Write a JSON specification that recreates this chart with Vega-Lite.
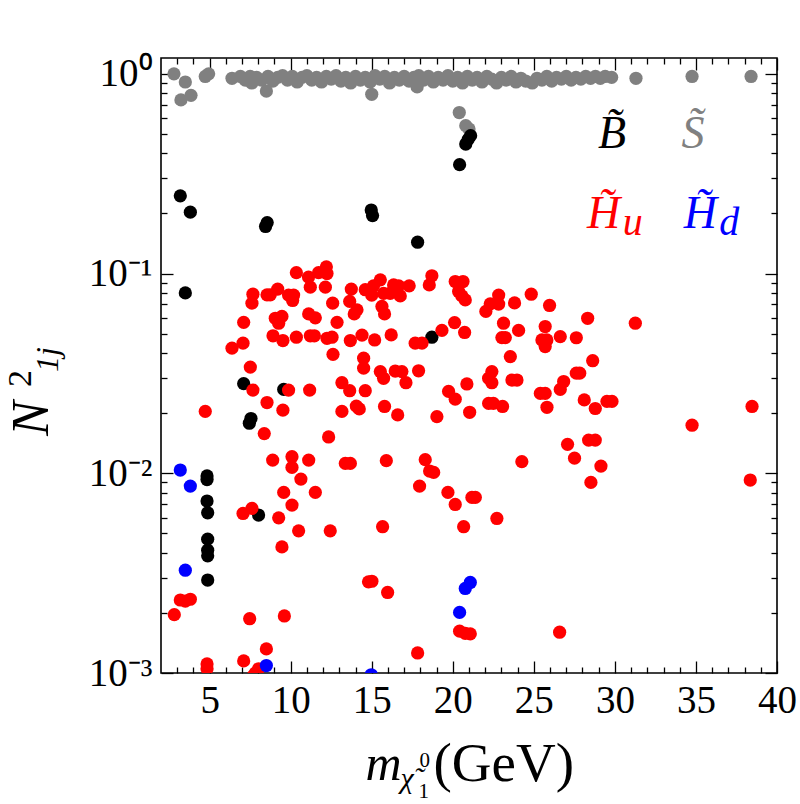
{
"$schema": "https://vega.github.io/schema/vega-lite/v6.json",
"width": 616, "height": 615,
"autosize": {"type": "none"},
"padding": {"left": 161, "top": 58, "right": 23, "bottom": 131},
"background": "white",
"config": {
  "view": {"stroke": "black", "strokeWidth": 1.6},
  "axis": {"grid": false, "domain": false, "tickColor": "black", "tickWidth": 1.3, "labelColor": "black", "titleColor": "black",
           "labelFont": "Liberation Serif", "labelFontSize": 39, "titleFont": "Liberation Serif", "titleFontWeight": "normal"},
  "text": {"font": "Liberation Serif"}
},
"resolve": {"axis": {"x": "independent", "y": "independent"}},
"datasets": {
"pts": [
{"x":2.8,"y":1.0,"c":"S"},{"x":3.5,"y":0.91,"c":"S"},{"x":3.23,"y":0.74,"c":"S"},{"x":3.85,"y":0.78,"c":"S"},{"x":4.73,"y":0.97,"c":"S"},{"x":4.94,"y":1.0,"c":"S"},{"x":6.38,"y":0.95,"c":"S"},{"x":8.5,"y":0.82,"c":"S"},{"x":15.0,"y":0.79,"c":"S"},{"x":17.8,"y":0.86,"c":"S"},{"x":20.4,"y":0.64,"c":"S"},{"x":20.8,"y":0.55,"c":"S"},{"x":21.0,"y":0.53,"c":"S"},{"x":31.3,"y":0.95,"c":"S"},{"x":34.76,"y":0.97,"c":"S"},{"x":38.4,"y":0.97,"c":"S"},
{"x":6.9,"y":0.97,"c":"S"},{"x":7.2,"y":0.93,"c":"S"},{"x":7.5,"y":0.97,"c":"S"},{"x":7.6,"y":0.9,"c":"S"},{"x":7.9,"y":0.96,"c":"S"},{"x":8.2,"y":0.93,"c":"S"},{"x":8.6,"y":0.97,"c":"S"},{"x":8.9,"y":0.92,"c":"S"},{"x":9.2,"y":0.96,"c":"S"},{"x":9.5,"y":0.98,"c":"S"},{"x":9.8,"y":0.93,"c":"S"},{"x":10.1,"y":0.97,"c":"S"},{"x":10.4,"y":0.91,"c":"S"},{"x":10.7,"y":0.96,"c":"S"},{"x":11.0,"y":0.98,"c":"S"},{"x":11.3,"y":0.93,"c":"S"},{"x":11.6,"y":0.96,"c":"S"},{"x":11.9,"y":0.91,"c":"S"},{"x":12.2,"y":0.97,"c":"S"},{"x":12.5,"y":0.94,"c":"S"},{"x":12.8,"y":0.98,"c":"S"},{"x":13.1,"y":0.92,"c":"S"},{"x":13.4,"y":0.96,"c":"S"},{"x":13.7,"y":0.9,"c":"S"},{"x":14.0,"y":0.97,"c":"S"},{"x":14.3,"y":0.93,"c":"S"},{"x":14.6,"y":0.96,"c":"S"},{"x":14.9,"y":0.91,"c":"S"},{"x":15.2,"y":0.98,"c":"S"},{"x":15.5,"y":0.94,"c":"S"},{"x":15.8,"y":0.97,"c":"S"},{"x":16.1,"y":0.9,"c":"S"},{"x":16.4,"y":0.96,"c":"S"},{"x":16.7,"y":0.93,"c":"S"},{"x":17.0,"y":0.97,"c":"S"},{"x":17.3,"y":0.92,"c":"S"},{"x":17.6,"y":0.96,"c":"S"},{"x":17.9,"y":0.98,"c":"S"},{"x":18.2,"y":0.93,"c":"S"},{"x":18.5,"y":0.97,"c":"S"},{"x":18.8,"y":0.91,"c":"S"},{"x":19.1,"y":0.96,"c":"S"},{"x":19.4,"y":0.93,"c":"S"},{"x":19.7,"y":0.98,"c":"S"},{"x":20.0,"y":0.92,"c":"S"},{"x":20.3,"y":0.96,"c":"S"},{"x":20.6,"y":0.9,"c":"S"},{"x":20.9,"y":0.97,"c":"S"},{"x":21.2,"y":0.93,"c":"S"},{"x":21.5,"y":0.96,"c":"S"},{"x":21.8,"y":0.91,"c":"S"},{"x":22.1,"y":0.97,"c":"S"},{"x":22.4,"y":0.94,"c":"S"},{"x":22.7,"y":0.9,"c":"S"},{"x":23.0,"y":0.96,"c":"S"},{"x":23.3,"y":0.93,"c":"S"},{"x":23.6,"y":0.97,"c":"S"},{"x":23.9,"y":0.91,"c":"S"},{"x":24.2,"y":0.95,"c":"S"},{"x":24.5,"y":0.92,"c":"S"},{"x":24.9,"y":0.9,"c":"S"},{"x":25.2,"y":0.95,"c":"S"},{"x":25.5,"y":0.93,"c":"S"},{"x":25.8,"y":0.97,"c":"S"},{"x":26.1,"y":0.92,"c":"S"},{"x":26.4,"y":0.96,"c":"S"},{"x":26.7,"y":0.94,"c":"S"},{"x":27.0,"y":0.97,"c":"S"},{"x":27.3,"y":0.93,"c":"S"},{"x":27.6,"y":0.96,"c":"S"},{"x":27.9,"y":0.94,"c":"S"},{"x":28.2,"y":0.97,"c":"S"},{"x":28.5,"y":0.95,"c":"S"},{"x":28.8,"y":0.97,"c":"S"},{"x":29.1,"y":0.95,"c":"S"},{"x":29.4,"y":0.97,"c":"S"},{"x":29.8,"y":0.96,"c":"S"},
{"x":3.19,"y":0.245,"c":"B"},{"x":3.81,"y":0.203,"c":"B"},{"x":3.5,"y":0.08,"c":"B"},{"x":8.45,"y":0.172,"c":"B"},{"x":8.55,"y":0.18,"c":"B"},{"x":14.97,"y":0.208,"c":"B"},{"x":15.05,"y":0.195,"c":"B"},{"x":17.83,"y":0.1435,"c":"B"},{"x":18.71,"y":0.048,"c":"B"},{"x":20.42,"y":0.351,"c":"B"},{"x":20.8,"y":0.445,"c":"B"},{"x":20.95,"y":0.47,"c":"B"},{"x":21.1,"y":0.49,"c":"B"},{"x":7.1,"y":0.0281,"c":"B"},{"x":9.57,"y":0.0263,"c":"B"},{"x":7.45,"y":0.0178,"c":"B"},{"x":7.55,"y":0.0188,"c":"B"},{"x":4.84,"y":0.0097,"c":"B"},{"x":4.84,"y":0.0093,"c":"B"},{"x":4.84,"y":0.00726,"c":"B"},{"x":4.88,"y":0.00634,"c":"B"},{"x":8.02,"y":0.00618,"c":"B"},{"x":4.88,"y":0.00468,"c":"B"},{"x":4.88,"y":0.00412,"c":"B"},{"x":4.88,"y":0.00386,"c":"B"},{"x":4.88,"y":0.00292,"c":"B"},
{"x":10.35,"y":0.101,"c":"Hu"},{"x":11.1,"y":0.096,"c":"Hu"},{"x":11.72,"y":0.101,"c":"Hu"},{"x":12.2,"y":0.108,"c":"Hu"},{"x":12.24,"y":0.1,"c":"Hu"},{"x":11.21,"y":0.0855,"c":"Hu"},{"x":12.14,"y":0.0855,"c":"Hu"},{"x":9.2,"y":0.0836,"c":"Hu"},{"x":8.54,"y":0.0782,"c":"Hu"},{"x":8.74,"y":0.0782,"c":"Hu"},{"x":7.67,"y":0.0788,"c":"Hu"},{"x":7.61,"y":0.0711,"c":"Hu"},{"x":9.87,"y":0.078,"c":"Hu"},{"x":10.18,"y":0.078,"c":"Hu"},{"x":10.12,"y":0.0733,"c":"Hu"},{"x":13.74,"y":0.0836,"c":"Hu"},{"x":14.6,"y":0.083,"c":"Hu"},{"x":12.59,"y":0.0711,"c":"Hu"},{"x":13.64,"y":0.0725,"c":"Hu"},{"x":14.09,"y":0.0658,"c":"Hu"},{"x":13.92,"y":0.0628,"c":"Hu"},{"x":7.1,"y":0.057,"c":"Hu"},{"x":9.05,"y":0.0597,"c":"Hu"},{"x":9.46,"y":0.061,"c":"Hu"},{"x":9.26,"y":0.0564,"c":"Hu"},{"x":11.11,"y":0.0628,"c":"Hu"},{"x":11.52,"y":0.06,"c":"Hu"},{"x":12.86,"y":0.057,"c":"Hu"},{"x":8.91,"y":0.0488,"c":"Hu"},{"x":9.52,"y":0.0462,"c":"Hu"},{"x":10.35,"y":0.048,"c":"Hu"},{"x":11.21,"y":0.0488,"c":"Hu"},{"x":11.46,"y":0.0488,"c":"Hu"},{"x":12.24,"y":0.0474,"c":"Hu"},{"x":12.55,"y":0.048,"c":"Hu"},{"x":13.68,"y":0.0462,"c":"Hu"},{"x":14.4,"y":0.0492,"c":"Hu"},{"x":7.06,"y":0.0448,"c":"Hu"},{"x":6.38,"y":0.0423,"c":"Hu"},{"x":12.61,"y":0.0394,"c":"Hu"},{"x":14.5,"y":0.0377,"c":"Hu"},{"x":14.5,"y":0.0336,"c":"Hu"},{"x":7.51,"y":0.034,"c":"Hu"},{"x":13.16,"y":0.0284,"c":"Hu"},{"x":13.64,"y":0.0259,"c":"Hu"},{"x":7.67,"y":0.0261,"c":"Hu"},{"x":9.87,"y":0.0261,"c":"Hu"},{"x":11.17,"y":0.0261,"c":"Hu"},{"x":14.6,"y":0.0259,"c":"Hu"},{"x":8.54,"y":0.0226,"c":"Hu"},{"x":9.52,"y":0.0207,"c":"Hu"},{"x":4.73,"y":0.0204,"c":"Hu"},{"x":13.16,"y":0.0204,"c":"Hu"},{"x":14.05,"y":0.0217,"c":"Hu"},{"x":14.23,"y":0.021,"c":"Hu"},
{"x":15.11,"y":0.0868,"c":"Hu"},{"x":15.53,"y":0.093,"c":"Hu"},{"x":15.0,"y":0.078,"c":"Hu"},{"x":15.73,"y":0.0796,"c":"Hu"},{"x":16.35,"y":0.0877,"c":"Hu"},{"x":16.66,"y":0.0868,"c":"Hu"},{"x":16.14,"y":0.0796,"c":"Hu"},{"x":16.76,"y":0.0773,"c":"Hu"},{"x":17.31,"y":0.0868,"c":"Hu"},{"x":15.63,"y":0.0684,"c":"Hu"},{"x":15.79,"y":0.0628,"c":"Hu"},{"x":18.55,"y":0.0877,"c":"Hu"},{"x":18.71,"y":0.0975,"c":"Hu"},{"x":20.15,"y":0.0912,"c":"Hu"},{"x":20.63,"y":0.0912,"c":"Hu"},{"x":20.36,"y":0.0813,"c":"Hu"},{"x":20.56,"y":0.0773,"c":"Hu"},{"x":20.77,"y":0.0738,"c":"Hu"},{"x":22.83,"y":0.078,"c":"Hu"},{"x":22.31,"y":0.0705,"c":"Hu"},{"x":22.04,"y":0.0646,"c":"Hu"},{"x":22.83,"y":0.0703,"c":"Hu"},{"x":23.81,"y":0.0713,"c":"Hu"},{"x":24.84,"y":0.0788,"c":"Hu"},{"x":25.97,"y":0.0692,"c":"Hu"},{"x":20.11,"y":0.0568,"c":"Hu"},{"x":19.33,"y":0.0519,"c":"Hu"},{"x":20.73,"y":0.0507,"c":"Hu"},{"x":23.13,"y":0.0564,"c":"Hu"},{"x":23.03,"y":0.0478,"c":"Hu"},{"x":23.24,"y":0.0478,"c":"Hu"},{"x":24.06,"y":0.0519,"c":"Hu"},{"x":25.7,"y":0.0543,"c":"Hu"},{"x":25.5,"y":0.0465,"c":"Hu"},{"x":25.8,"y":0.0465,"c":"Hu"},{"x":26.63,"y":0.0483,"c":"Hu"},{"x":25.7,"y":0.0431,"c":"Hu"},{"x":15.18,"y":0.0465,"c":"Hu"},{"x":16.2,"y":0.0493,"c":"Hu"},{"x":17.68,"y":0.0448,"c":"Hu"},{"x":18.1,"y":0.0448,"c":"Hu"},{"x":23.55,"y":0.0384,"c":"Hu"},{"x":15.53,"y":0.0323,"c":"Hu"},{"x":15.73,"y":0.0299,"c":"Hu"},{"x":16.45,"y":0.0325,"c":"Hu"},{"x":16.86,"y":0.0323,"c":"Hu"},{"x":17.89,"y":0.0326,"c":"Hu"},{"x":17.11,"y":0.0284,"c":"Hu"},{"x":22.41,"y":0.0323,"c":"Hu"},{"x":22.21,"y":0.0299,"c":"Hu"},{"x":22.41,"y":0.0284,"c":"Hu"},{"x":23.65,"y":0.0293,"c":"Hu"},{"x":23.96,"y":0.0293,"c":"Hu"},{"x":20.87,"y":0.028,"c":"Hu"},{"x":19.74,"y":0.0257,"c":"Hu"},{"x":20.15,"y":0.0235,"c":"Hu"},{"x":26.84,"y":0.0288,"c":"Hu"},{"x":26.63,"y":0.0263,"c":"Hu"},{"x":25.4,"y":0.0251,"c":"Hu"},{"x":25.7,"y":0.0251,"c":"Hu"},{"x":15.79,"y":0.0216,"c":"Hu"},{"x":16.6,"y":0.0196,"c":"Hu"},{"x":19.02,"y":0.0192,"c":"Hu"},{"x":21.04,"y":0.0202,"c":"Hu"},{"x":22.21,"y":0.0224,"c":"Hu"},{"x":22.5,"y":0.0224,"c":"Hu"},{"x":23.07,"y":0.0216,"c":"Hu"},{"x":25.81,"y":0.0214,"c":"Hu"},
{"x":28.32,"y":0.0597,"c":"Hu"},{"x":31.26,"y":0.0564,"c":"Hu"},{"x":27.62,"y":0.0477,"c":"Hu"},{"x":28.63,"y":0.0366,"c":"Hu"},{"x":27.62,"y":0.0317,"c":"Hu"},{"x":27.83,"y":0.0317,"c":"Hu"},{"x":28.11,"y":0.0233,"c":"Hu"},{"x":28.79,"y":0.0211,"c":"Hu"},{"x":29.51,"y":0.0229,"c":"Hu"},{"x":29.82,"y":0.0229,"c":"Hu"},{"x":38.46,"y":0.0216,"c":"Hu"},
{"x":8.37,"y":0.0158,"c":"Hu"},{"x":12.34,"y":0.0152,"c":"Hu"},{"x":8.89,"y":0.01164,"c":"Hu"},{"x":10.08,"y":0.0121,"c":"Hu"},{"x":10.08,"y":0.0107,"c":"Hu"},{"x":11.11,"y":0.01164,"c":"Hu"},{"x":13.37,"y":0.0112,"c":"Hu"},{"x":13.68,"y":0.0112,"c":"Hu"},{"x":10.63,"y":0.00935,"c":"Hu"},{"x":9.57,"y":0.00802,"c":"Hu"},{"x":11.52,"y":0.00802,"c":"Hu"},{"x":10.08,"y":0.00693,"c":"Hu"},{"x":7.06,"y":0.00629,"c":"Hu"},{"x":7.61,"y":0.00667,"c":"Hu"},{"x":9.26,"y":0.00598,"c":"Hu"},{"x":10.49,"y":0.00515,"c":"Hu"},{"x":12.44,"y":0.00515,"c":"Hu"},{"x":9.46,"y":0.00428,"c":"Hu"},{"x":14.8,"y":0.00286,"c":"Hu"},{"x":3.19,"y":0.00232,"c":"Hu"},{"x":3.81,"y":0.00234,"c":"Hu"},{"x":3.5,"y":0.00229,"c":"Hu"},{"x":2.82,"y":0.00196,"c":"Hu"},{"x":7.47,"y":0.00187,"c":"Hu"},{"x":9.61,"y":0.00193,"c":"Hu"},{"x":8.5,"y":0.00132,"c":"Hu"},{"x":7.1,"y":0.00115,"c":"Hu"},{"x":4.84,"y":0.00111,"c":"Hu"},{"x":4.84,"y":0.00105,"c":"Hu"},{"x":8.02,"y":0.00105,"c":"Hu"},{"x":7.82,"y":0.001,"c":"Hu"},{"x":7.7,"y":0.00097,"c":"Hu"},
{"x":27.08,"y":0.01396,"c":"Hu"},{"x":27.51,"y":0.0119,"c":"Hu"},{"x":15.9,"y":0.01156,"c":"Hu"},{"x":18.3,"y":0.0117,"c":"Hu"},{"x":18.57,"y":0.01026,"c":"Hu"},{"x":18.82,"y":0.0101,"c":"Hu"},{"x":24.26,"y":0.01143,"c":"Hu"},{"x":17.95,"y":0.00863,"c":"Hu"},{"x":19.7,"y":0.00802,"c":"Hu"},{"x":20.15,"y":0.00698,"c":"Hu"},{"x":21.18,"y":0.00757,"c":"Hu"},{"x":21.39,"y":0.00757,"c":"Hu"},{"x":22.72,"y":0.00594,"c":"Hu"},{"x":15.67,"y":0.0054,"c":"Hu"},{"x":20.67,"y":0.0054,"c":"Hu"},{"x":15.01,"y":0.00288,"c":"Hu"},{"x":15.98,"y":0.00253,"c":"Hu"},{"x":20.42,"y":0.00162,"c":"Hu"},{"x":20.77,"y":0.00158,"c":"Hu"},{"x":21.08,"y":0.00157,"c":"Hu"},{"x":26.59,"y":0.0016,"c":"Hu"},{"x":17.83,"y":0.00126,"c":"Hu"},
{"x":34.76,"y":0.0174,"c":"Hu"},{"x":28.38,"y":0.01466,"c":"Hu"},{"x":28.79,"y":0.01466,"c":"Hu"},{"x":29.14,"y":0.01086,"c":"Hu"},{"x":28.52,"y":0.009,"c":"Hu"},{"x":38.35,"y":0.00925,"c":"Hu"},
{"x":3.19,"y":0.01038,"c":"Hd"},{"x":3.81,"y":0.00863,"c":"Hd"},{"x":3.5,"y":0.00327,"c":"Hd"},{"x":8.5,"y":0.00109,"c":"Hd"},{"x":14.97,"y":0.00098,"c":"Hd"},{"x":21.08,"y":0.00284,"c":"Hd"},{"x":20.77,"y":0.00265,"c":"Hd"},{"x":20.42,"y":0.00201,"c":"Hd"}
],
"ann": [
{"x":29.82,"y":0.4245,"t":"B̃","c":"B","k":"main"},
{"x":34.82,"y":0.4245,"t":"S̃","c":"S","k":"main"},
{"x":29.3,"y":0.169,"t":"H̃","c":"Hu","k":"main"},
{"x":35.27,"y":0.169,"t":"H̃","c":"Hd","k":"main"},
{"x":31.1,"y":0.156,"t":"u","c":"Hu","k":"sub"},
{"x":37.06,"y":0.156,"t":"d","c":"Hd","k":"sub"}
]
},
"layer": [
 {
  "data": {"name": "pts"},
  "mark": {"type": "circle", "size": 175, "opacity": 1, "clip": true},
  "encoding": {
   "x": {"field": "x", "type": "quantitative", "scale": {"domain": [2, 40], "nice": false, "zero": false},
         "axis": {"orient": "bottom", "values": [5,10,15,20,25,30,35,40], "tickSize": -12, "labelPadding": 20, "labelFlush": false,
                  "labelFont": "Liberation Serif", "labelFontSize": 39,
                  "title": "(GeV)", "titleFontSize": 55, "titleAlign": "left", "titleBaseline": "alphabetic", "titleAnchor": null, "titleX": 272, "titleY": 107}},
   "y": {"field": "y", "type": "quantitative", "scale": {"type": "log", "domain": [0.001, 1.2], "nice": false},
         "axis": {"orient": "left", "values": [0.001, 0.01, 0.1, 1], "tickSize": -12, "labelPadding": 21, "labelFlush": false,
                  "labelFont": "Liberation Serif", "labelFontSize": 39,
                  "labelExpr": "'10' + ['⁻³','⁻²','⁻¹','⁰'][round(log(datum.value)/LN10)+3]",
                  "title": "N", "titleFontSize": 52, "titleFontStyle": "italic", "titleAngle": -90, "titleAlign": "center", "titleBaseline": "alphabetic", "titleAnchor": null, "titleX": -114, "titleY": 360}},
   "color": {"field": "c", "type": "nominal", "scale": {"domain": ["S","B","Hu","Hd"], "range": ["#808080","#000000","#ff0000","#0000ff"]}, "legend": null}
  }
 },
 {
  "data": {"name": "pts"},
  "mark": {"type": "circle", "opacity": 0},
  "encoding": {
   "x": {"field": "x", "type": "quantitative", "scale": {"domain": [2, 40], "nice": false, "zero": false},
         "axis": {"orient": "bottom", "values": [3,4,6,7,8,9,11,12,13,14,16,17,18,19,21,22,23,24,26,27,28,29,31,32,33,34,36,37,38,39], "tickSize": -6, "labels": false,
                  "title": "m", "titleFontSize": 50, "titleFontStyle": "italic", "titleAlign": "left", "titleBaseline": "alphabetic", "titleAnchor": null, "titleX": 204, "titleY": 106}},
   "y": {"field": "y", "type": "quantitative", "scale": {"type": "log", "domain": [0.001, 1.2], "nice": false},
         "axis": {"orient": "left", "values": [0.002,0.003,0.004,0.005,0.006,0.007,0.008,0.009,0.02,0.03,0.04,0.05,0.06,0.07,0.08,0.09,0.2,0.3,0.4,0.5,0.6,0.7,0.8,0.9], "tickSize": -6, "labels": false,
                  "title": "2", "titleFontSize": 34, "titleAngle": -90, "titleAlign": "center", "titleBaseline": "alphabetic", "titleAnchor": null, "titleX": -131, "titleY": 320}},
   "color": {"value": "white"}
  }
 },
 {
  "data": {"name": "pts"},
  "mark": {"type": "circle", "opacity": 0},
  "encoding": {
   "x": {"field": "x", "type": "quantitative", "scale": {"domain": [2, 40], "nice": false, "zero": false},
         "axis": {"orient": "top", "values": [5,10,15,20,25,30,35,40], "tickSize": -12, "labels": false,
                  "title": "χ̃", "titleFontSize": 30, "titleFontStyle": "italic", "titleAlign": "left", "titleBaseline": "alphabetic", "titleAnchor": null, "titleX": 239, "titleY": 729}},
   "y": {"field": "y", "type": "quantitative", "scale": {"type": "log", "domain": [0.001, 1.2], "nice": false},
         "axis": {"orient": "right", "values": [0.001, 0.01, 0.1, 1], "tickSize": -12, "labels": false,
                  "title": "1j", "titleFontSize": 32, "titleFontStyle": "italic", "titleAngle": -90, "titleAlign": "center", "titleBaseline": "alphabetic", "titleAnchor": null, "titleX": -720, "titleY": 301}},
   "color": {"value": "white"}
  }
 },
 {
  "data": {"name": "pts"},
  "mark": {"type": "circle", "opacity": 0},
  "encoding": {
   "x": {"field": "x", "type": "quantitative", "scale": {"domain": [2, 40], "nice": false, "zero": false},
         "axis": {"orient": "top", "values": [3,4,6,7,8,9,11,12,13,14,16,17,18,19,21,22,23,24,26,27,28,29,31,32,33,34,36,37,38,39], "tickSize": -6, "labels": false,
                  "title": "0", "titleFontSize": 21, "titleAlign": "left", "titleBaseline": "alphabetic", "titleAnchor": null, "titleX": 258, "titleY": 708}},
   "y": {"field": "y", "type": "quantitative", "scale": {"type": "log", "domain": [0.001, 1.2], "nice": false},
         "axis": {"orient": "right", "values": [0.002,0.003,0.004,0.005,0.006,0.007,0.008,0.009,0.02,0.03,0.04,0.05,0.06,0.07,0.08,0.09,0.2,0.3,0.4,0.5,0.6,0.7,0.8,0.9], "tickSize": -6, "labels": false,
                  "title": "1", "titleFontSize": 21, "titleAngle": 0, "titleAlign": "left", "titleBaseline": "alphabetic", "titleAnchor": null, "titleX": -359, "titleY": 739}},
   "color": {"value": "white"}
  }
 },
 {
  "data": {"name": "ann"},
  "transform": [{"filter": "datum.k == 'main'"}],
  "mark": {"type": "text", "font": "Liberation Serif", "fontSize": 46, "fontStyle": "italic", "align": "center", "baseline": "alphabetic"},
  "encoding": {
   "x": {"field": "x", "type": "quantitative", "scale": {"domain": [2, 40], "nice": false, "zero": false}, "axis": null},
   "y": {"field": "y", "type": "quantitative", "scale": {"type": "log", "domain": [0.001, 1.2], "nice": false}, "axis": null},
   "text": {"field": "t"},
   "color": {"field": "c", "type": "nominal", "scale": {"domain": ["S","B","Hu","Hd"], "range": ["#808080","#000000","#ff0000","#0000ff"]}, "legend": null}
  }
 },
 {
  "data": {"name": "ann"},
  "transform": [{"filter": "datum.k == 'sub'"}],
  "mark": {"type": "text", "font": "Liberation Serif", "fontSize": 40, "fontStyle": "italic", "align": "center", "baseline": "alphabetic"},
  "encoding": {
   "x": {"field": "x", "type": "quantitative", "scale": {"domain": [2, 40], "nice": false, "zero": false}, "axis": null},
   "y": {"field": "y", "type": "quantitative", "scale": {"type": "log", "domain": [0.001, 1.2], "nice": false}, "axis": null},
   "text": {"field": "t"},
   "color": {"field": "c", "type": "nominal", "scale": {"domain": ["S","B","Hu","Hd"], "range": ["#808080","#000000","#ff0000","#0000ff"]}, "legend": null}
  }
 }
]
}
